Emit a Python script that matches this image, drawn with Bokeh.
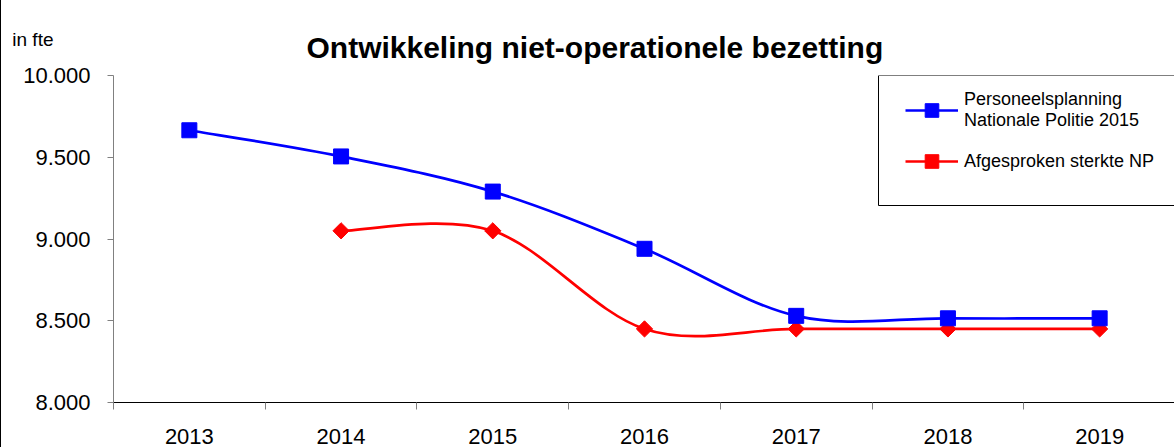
import numpy as np
from bokeh.plotting import figure
from bokeh.models import (FixedTicker, Legend, LegendItem, BoxAnnotation,
                          LinearAxis, Range1d, ColumnDataSource)
from bokeh.embed import file_html
from bokeh.resources import INLINE

# ---------------- data ----------------
years = ["2013", "2014", "2015", "2016", "2017", "2018", "2019"]
planning = [9665, 9505, 9290, 8940, 8530, 8515, 8515]
afgesproken = [None, 9050, 9050, 8450, 8450, 8450, 8450]
y_ticks = [8000, 8500, 9000, 9500, 10000]
y_tick_labels = ["8.000", "8.500", "9.000", "9.500", "10.000"]
series_names = ["Personeelsplanning\nNationale Politie 2015", "Afgesproken sterkte NP"]
title_text = "Ontwikkeling niet-operationele bezetting"
unit_text = "in fte"

FONT = "Liberation Sans"
BLUE = "#0000FF"
RED = "#FF0000"
W, H = 1174, 447

xpos = [i + 0.5 for i in range(len(years))]


def smooth_segments(xs, ys):
    pts = [(x, y) for x, y in zip(xs, ys) if y is not None]
    n = len(pts)
    seg = dict(x0=[], y0=[], x1=[], y1=[], cx0=[], cy0=[], cx1=[], cy1=[])
    for i in range(n - 1):
        p0 = pts[max(i - 1, 0)]
        p1 = pts[i]
        p2 = pts[i + 1]
        p3 = pts[min(i + 2, n - 1)]
        seg["x0"].append(p1[0]); seg["y0"].append(p1[1])
        seg["x1"].append(p2[0]); seg["y1"].append(p2[1])
        seg["cx0"].append(p1[0] + (p2[0] - p0[0]) / 6.0)
        seg["cy0"].append(p1[1] + (p2[1] - p0[1]) / 6.0)
        seg["cx1"].append(p2[0] - (p3[0] - p1[0]) / 6.0)
        seg["cy1"].append(p2[1] - (p3[1] - p1[1]) / 6.0)
    return ColumnDataSource(seg)


p = figure(width=W, height=H, output_backend="svg", toolbar_location=None,
           x_range=Range1d(0, len(years)), y_range=Range1d(y_ticks[0], y_ticks[-1]),
           min_border_left=112, min_border_right=0, min_border_top=75,
           min_border_bottom=45)
p.styles = {"border-left": "1px solid #000000"}
p.outline_line_color = None
p.background_fill_color = "white"
p.border_fill_color = "white"

# title
p.title.text = title_text
p.title.text_font = FONT
p.title.text_font_size = "30px"
p.title.text_font_style = "bold"
p.title.text_color = "#000000"
p.title.align = "left"
p.title.offset = 193
p.title.standoff = 23

# grids
p.xgrid.visible = False
p.ygrid.ticker = FixedTicker(ticks=[y_ticks[-1]])
p.ygrid.grid_line_color = "#808080"

# x axis
xa = p.xaxis[0]
xa.ticker = FixedTicker(ticks=xpos, minor_ticks=list(range(len(years) + 1)))
xa.major_label_overrides = {x: lab for x, lab in zip(xpos, years)}
xa.major_tick_out = 0
xa.major_tick_in = 0
xa.minor_tick_out = 7
xa.minor_tick_in = 0
xa.minor_tick_line_color = "#808080"
xa.axis_line_color = "#000000"
xa.major_label_text_font = FONT
xa.major_label_text_font_size = "22px"
xa.major_label_text_color = "#000000"
xa.major_label_standoff = 19

# y axis
ya = p.yaxis[0]
ya.ticker = FixedTicker(ticks=y_ticks, minor_ticks=[])
ya.major_label_overrides = {t: lab for t, lab in zip(y_ticks, y_tick_labels)}
ya.major_tick_out = 6
ya.major_tick_in = 0
ya.major_tick_line_color = "#808080"
ya.axis_line_color = "#808080"
ya.major_label_text_font = FONT
ya.major_label_text_font_size = "22px"
ya.major_label_text_color = "#000000"
ya.major_label_standoff = 17

# unit text: an extra, line-less axis whose single label sits above the top tick
ua = LinearAxis(ticker=FixedTicker(ticks=[y_ticks[-1]], minor_ticks=[]),
                major_label_overrides={y_ticks[-1]: unit_text + "\n \n \n "},
                axis_line_color=None, major_tick_line_color=None,
                minor_tick_line_color=None, major_tick_out=0, major_tick_in=0,
                major_label_standoff=-33, major_label_text_font=FONT,
                major_label_text_font_size="19px",
                major_label_text_line_height=1.15,
                major_label_text_color="#000000")
p.add_layout(ua, "left")

# series
src_b = smooth_segments(xpos, planning)
src_r = smooth_segments(xpos, afgesproken)
lb = p.bezier(x0="x0", y0="y0", x1="x1", y1="y1", cx0="cx0", cy0="cy0",
              cx1="cx1", cy1="cy1", source=src_b, line_color=BLUE, line_width=2.7)
lr = p.bezier(x0="x0", y0="y0", x1="x1", y1="y1", cx0="cx0", cy0="cy0",
              cx1="cx1", cy1="cy1", source=src_r, line_color=RED, line_width=2.7)

rx = [x for x, y in zip(xpos, afgesproken) if y is not None]
ry = [y for y in afgesproken if y is not None]
mr = p.scatter(rx, ry, marker="square", angle=np.pi / 4, size=11.5,
               fill_color=RED, line_color=RED)
mb = p.scatter(xpos, planning, marker="square", size=15, fill_color=BLUE,
               line_color=BLUE)

# legend box
box = BoxAnnotation(left=765, right=1200, top=327, bottom=197,
                    left_units="screen", right_units="screen",
                    top_units="screen", bottom_units="screen",
                    fill_color="white", fill_alpha=1.0,
                    line_color="#000000", line_alpha=1.0, line_width=1,
                    level="annotation")
p.add_layout(box)

legend = Legend(items=[LegendItem(label=series_names[0], renderers=[lb, mb]),
                       LegendItem(label=series_names[1], renderers=[lr, mr])],
                location=(792, 224), border_line_color=None,
                background_fill_alpha=0, padding=0, spacing=13,
                glyph_width=53, glyph_height=34, label_standoff=6,
                label_text_font=FONT, label_text_font_size="18px",
                label_text_color="#000000",
                label_text_line_height=1.2, margin=0)
p.add_layout(legend)

open("out.html", "w").write(file_html(p, INLINE))
